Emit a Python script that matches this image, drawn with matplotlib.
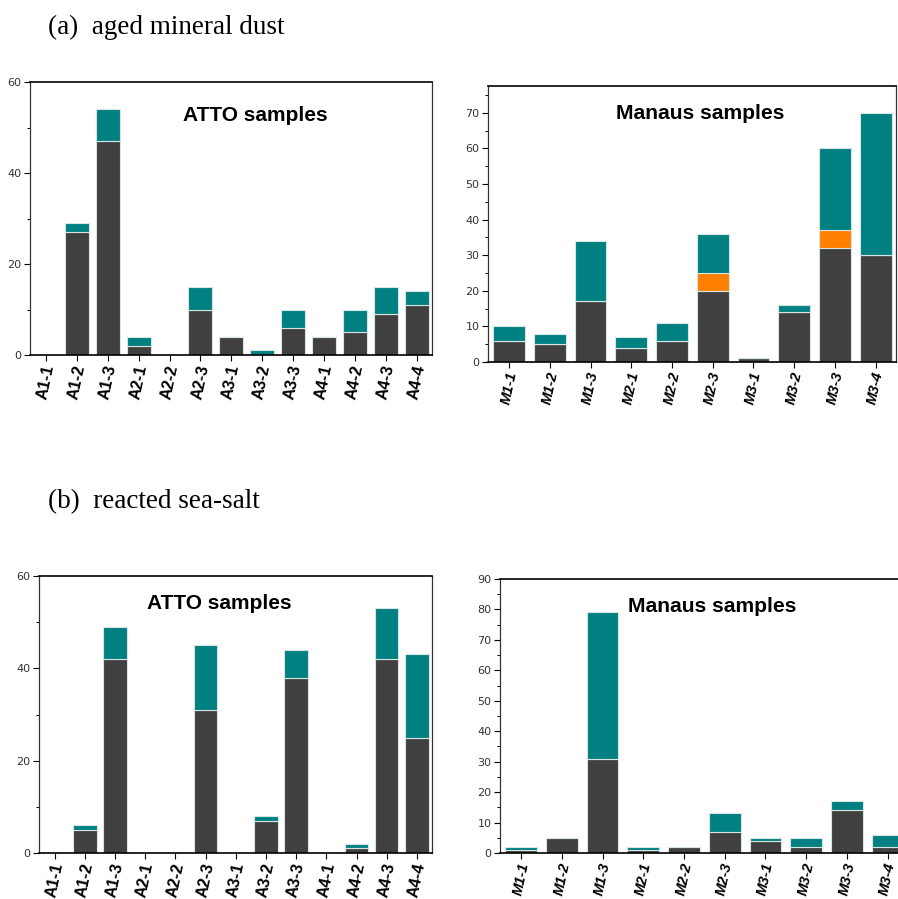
import matplotlib.pyplot as plt
from matplotlib.ticker import MultipleLocator

# sample names
atto_names = ['A1-1', 'A1-2', 'A1-3', 'A2-1', 'A2-2', 'A2-3', 'A3-1',
              'A3-2', 'A3-3', 'A4-1', 'A4-2', 'A4-3', 'A4-4']
manaus_names = ['M1-1', 'M1-2', 'M1-3', 'M2-1', 'M2-2', 'M2-3', 'M3-1',
                'M3-2', 'M3-3', 'M3-4']

# (a) aged mineral dust
dust_atto_dark = [0, 27, 47, 2, 0, 10, 4, 0, 6, 4, 5, 9, 11]
dust_atto_teal = [0, 2, 7, 2, 0, 5, 0, 1, 4, 0, 5, 6, 3]
dust_manaus_dark = [6, 5, 17, 4, 6, 20, 1, 14, 32, 30]
dust_manaus_orange = [0, 0, 0, 0, 0, 5, 0, 0, 5, 0]
dust_manaus_teal = [4, 3, 17, 3, 5, 11, 0, 2, 23, 40]

# (b) reacted sea-salt
salt_atto_dark = [0, 5, 42, 0, 0, 31, 0, 7, 38, 0, 1, 42, 25]
salt_atto_teal = [0, 1, 7, 0, 0, 14, 0, 1, 6, 0, 1, 11, 18]
salt_manaus_dark = [1, 5, 31, 1, 2, 7, 4, 2, 14, 2]
salt_manaus_teal = [1, 0, 48, 1, 0, 6, 1, 3, 3, 4]

DARK = '#404040'
TEAL = '#008080'
ORANGE = '#ff8000'
EDGE = '#d8e4e4'

W, H = 898, 899
fig = plt.figure(figsize=(W / 100, H / 100), dpi=100)


def add_ax(left, top, right, bottom):
    return fig.add_axes([left / W, 1 - bottom / H, (right - left) / W, (bottom - top) / H])


def stacked(ax, names, layers, ylim, major, minor, title, title_xy, italic, title_size):
    x = list(range(len(names)))
    base = [0] * len(names)
    for vals, col in layers:
        ax.bar(x, vals, width=0.78, bottom=base, color=col, edgecolor=EDGE, linewidth=0.8)
        base = [b + v for b, v in zip(base, vals)]
    ax.set_xlim(-0.52, len(names) - 0.5)
    ax.set_ylim(*ylim)
    ax.yaxis.set_major_locator(MultipleLocator(major))
    ax.yaxis.set_minor_locator(MultipleLocator(minor))
    ax.set_xticks(x)
    ax.set_xticklabels(names, rotation=78, ha='center', fontweight='bold',
                       fontstyle='italic' if italic else 'normal',
                       fontsize=10.5 if italic else 11.5, family='Liberation Sans')
    ax.tick_params(axis='y', which='major', direction='out', length=4, width=0.8,
                   labelsize=8, labelcolor='#333333', pad=2)
    ax.tick_params(axis='y', which='minor', direction='out', length=2.5, width=0.7)
    ax.tick_params(axis='x', direction='out', length=4, width=0.8, pad=2)
    for s in ['top', 'bottom']:
        ax.spines[s].set_linewidth(1.2)
        ax.spines[s].set_color('black')
    for s in ['left', 'right']:
        ax.spines[s].set_linewidth(0.9)
        ax.spines[s].set_color('#333333')
    ax.text(*title_xy, title, transform=ax.transAxes, ha='center', va='center',
            fontsize=title_size, fontweight='bold', family='Liberation Sans')


ax1 = add_ax(30, 82, 432, 355)
stacked(ax1, atto_names, [(dust_atto_dark, DARK), (dust_atto_teal, TEAL)],
        (0, 60), 20, 10, 'ATTO samples', (0.56, 0.876), False, 15)

ax2 = add_ax(488, 86, 896, 362)
stacked(ax2, manaus_names, [(dust_manaus_dark, DARK), (dust_manaus_orange, ORANGE),
                            (dust_manaus_teal, TEAL)],
        (0, 77.5), 10, 5, 'Manaus samples', (0.52, 0.9), True, 15.2)

ax3 = add_ax(39, 576, 432, 853)
stacked(ax3, atto_names, [(salt_atto_dark, DARK), (salt_atto_teal, TEAL)],
        (0, 60), 20, 10, 'ATTO samples', (0.46, 0.9), False, 15)

ax4 = add_ax(500, 579, 908, 853)
stacked(ax4, manaus_names, [(salt_manaus_dark, DARK), (salt_manaus_teal, TEAL)],
        (0, 90), 10, 5, 'Manaus samples', (0.52, 0.9), True, 15.2)

fig.text(48 / W, 1 - 27 / H, '(a)  aged mineral dust', fontsize=19.5,
         family='Liberation Serif', va='center', ha='left')
fig.text(48 / W, 1 - 502 / H, '(b)  reacted sea-salt', fontsize=19.5,
         family='Liberation Serif', va='center', ha='left')

fig.savefig('out.png', dpi=100)
